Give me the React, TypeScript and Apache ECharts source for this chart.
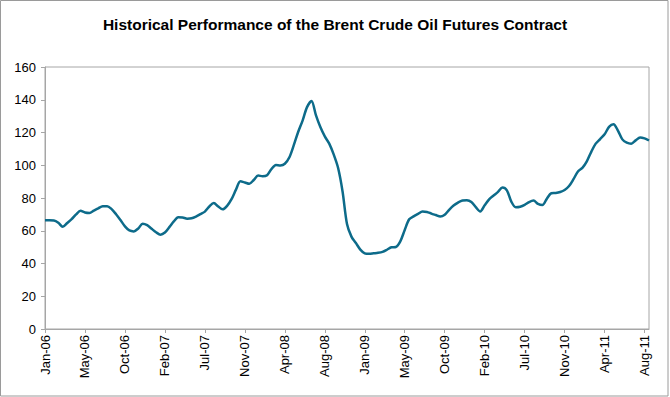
import React, { useEffect, useRef } from "react";
import * as echarts from "echarts";

const TITLE = "Historical Performance of the Brent Crude Oil Futures Contract";

// Semi-monthly observation dates (1st and 16th of each month), Jan-2006 .. Sep-2011
const START_YEAR = 2006;
const POINT_COUNT = 137;
const MONTHS = ["Jan", "Feb", "Mar", "Apr", "May", "Jun", "Jul", "Aug", "Sep", "Oct", "Nov", "Dec"];
const categories: string[] = Array.from({ length: POINT_COUNT }, (_, k) => {
  const m = Math.floor(k / 2);
  const y = START_YEAR + Math.floor(m / 12);
  const mm = String((m % 12) + 1).padStart(2, "0");
  return `${y}-${mm}-${k % 2 === 0 ? "01" : "16"}`;
});

// Brent crude futures price (USD/bbl)
const prices: number[] = [
  66.4, 66.4, 66.3, 64.9, 62.4, 64.7, 67.1, 70.0, 72.2, 71.2,
  70.9, 72.3, 73.7, 74.9, 75.0, 73.2, 70.1, 66.5, 62.7, 60.2,
  59.6, 61.4, 64.3, 63.4, 61.2, 59.1, 57.6, 58.9, 62.2, 65.7,
  68.3, 68.1, 67.4, 67.6, 68.7, 70.2, 71.7, 74.8, 76.9, 74.8,
  73.1, 75.2, 79.3, 85.1, 90.2, 89.5, 88.7, 91.0, 93.7, 93.3,
  93.9, 97.7, 100.2, 99.9, 100.9, 104.7, 112.1, 120.3, 127.3, 135.5,
  139.3, 130.6, 123.3, 117.6, 113.2, 106.6, 98.3, 84.0, 64.1, 56.4,
  52.5, 48.5, 46.2, 45.9, 46.2, 46.5, 47.1, 48.4, 49.9, 50.1,
  53.5, 60.5, 67.0, 68.8, 70.3, 71.8, 71.5, 70.5, 69.6, 68.7,
  69.8, 72.8, 75.4, 77.2, 78.5, 78.7, 77.6, 74.4, 71.8, 75.6,
  79.2, 81.5, 83.7, 86.4, 84.7, 77.8, 74.4, 74.7, 75.8, 77.5,
  78.4, 76.4, 75.7, 79.6, 82.9, 83.1, 83.7, 84.9, 87.3, 91.5,
  96.2, 98.4, 102.4, 108.2, 113.2, 116.0, 118.9, 123.4, 125.1, 121.2,
  115.8, 113.8, 113.2, 115.2, 117.0, 116.4, 115.1,
];

const Y_MIN = 0;
const Y_MAX = 160;
const Y_STEP = 20;

function formatLabel(v: string): string {
  const [y, m] = v.split("-");
  return `${MONTHS[parseInt(m, 10) - 1]}-${y.slice(2)}`;
}

export default function App() {
  const ref = useRef<HTMLDivElement>(null);

  useEffect(() => {
    document.body.style.margin = "0";
    if (!ref.current) return;
    const chart = echarts.init(ref.current, undefined, { renderer: "svg" });
    chart.setOption({
      animation: false,
      backgroundColor: "#ffffff",
      title: {
        text: TITLE,
        left: "center",
        top: 11,
        textStyle: {
          fontFamily: "'Liberation Sans', Arial, sans-serif",
          fontWeight: "bold",
          fontSize: 15.5,
          color: "#000000",
        },
      },
      graphic: [
        {
          type: "rect",
          shape: { x: 0.5, y: 0.5, width: 667.5, height: 395.5 },
          style: { fill: "none", stroke: "#9a9a9a", lineWidth: 1 },
          silent: true,
        },
      ],
      grid: {
        left: 45,
        right: 21,
        top: 67,
        bottom: 68,
        show: true,
        borderColor: "#a6a6a6",
        borderWidth: 1,
        backgroundColor: "transparent",
      },
      xAxis: {
        type: "category",
        data: categories,
        boundaryGap: false,
        axisLine: { lineStyle: { color: "#a6a6a6", width: 1 } },
        axisTick: { show: true, interval: 8, length: 4, lineStyle: { color: "#a6a6a6" } },
        axisLabel: {
          interval: 8,
          rotate: 90,
          margin: 6,
          fontSize: 13,
          fontFamily: "'Liberation Sans', Arial, sans-serif",
          color: "#000000",
          formatter: (v: string) => formatLabel(v),
        },
        splitLine: { show: false },
      },
      yAxis: {
        type: "value",
        min: Y_MIN,
        max: Y_MAX,
        interval: Y_STEP,
        axisLine: { show: true, lineStyle: { color: "#a6a6a6", width: 1 } },
        axisTick: { show: true, length: 4, lineStyle: { color: "#a6a6a6" } },
        axisLabel: {
          margin: 9,
          fontSize: 13,
          fontFamily: "'Liberation Sans', Arial, sans-serif",
          color: "#000000",
        },
        splitLine: { show: false },
      },
      series: [
        {
          type: "line",
          data: prices,
          showSymbol: false,
          smooth: 0.3,
          lineStyle: { color: "#0d6b8a", width: 2.5 },
          itemStyle: { color: "#0d6b8a" },
        },
      ],
    });
    return () => chart.dispose();
  }, []);

  return <div ref={ref} style={{ width: 670, height: 397 }} />;
}
